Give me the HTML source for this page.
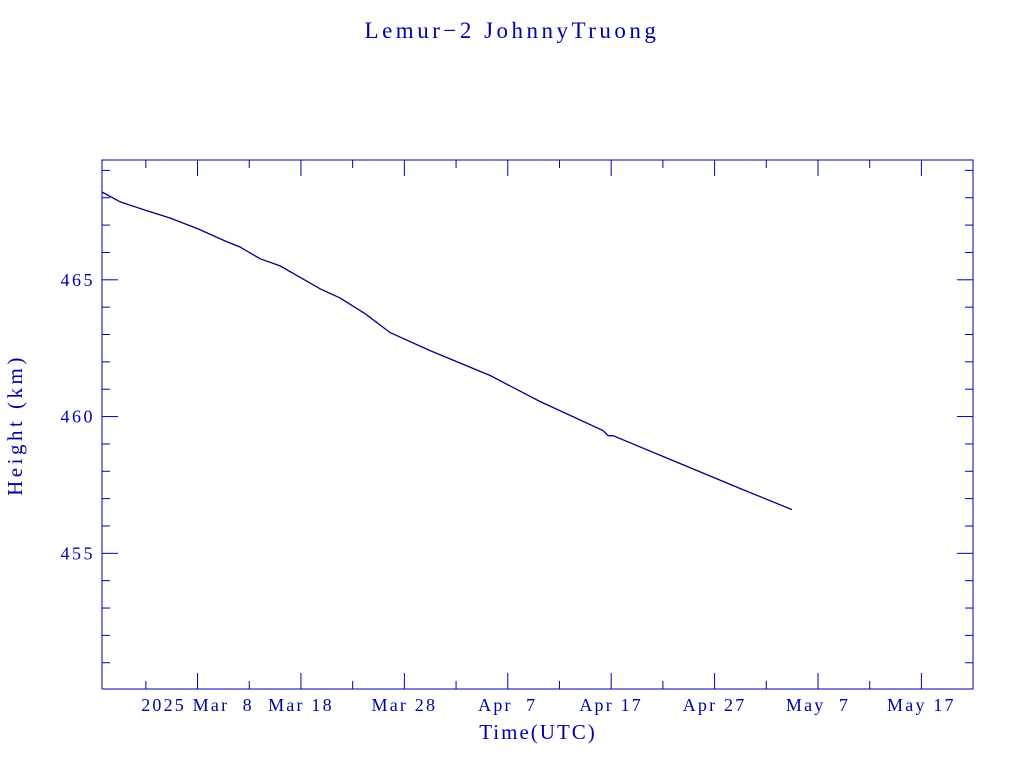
<!DOCTYPE html>
<html><head><meta charset="utf-8"><style>
body{margin:0;background:#fff;width:1024px;height:768px;overflow:hidden}
svg text{font-family:"Liberation Serif","DejaVu Serif",serif;fill:#0000aa}
</style></head><body>
<svg id="chart" width="1024" height="768" xmlns="http://www.w3.org/2000/svg">
<text x="512" y="38" text-anchor="middle" font-size="23" letter-spacing="3.5">Lemur−2 JohnnyTruong</text>
<rect x="102" y="160" width="871" height="529" fill="none" stroke="#0000aa" stroke-width="1"/>
<g id="ticks"></g>
<g id="labels"></g>
<path id="line" fill="none" stroke="#000088" stroke-width="1.3"/>
<text x="538" y="739" text-anchor="middle" font-size="21" letter-spacing="2">Time(UTC)</text>
<text transform="translate(22,425) rotate(-90)" text-anchor="middle" font-size="21" letter-spacing="3.5">Height (km)</text>
</svg>
<script>
// days relative to 2025 Mar 8
const days = [-9.24,-7.5,-5.08,-2.66,0.05,2.66,4.11,6.04,7.98,10.01,11.85,13.78,16.2,18.62,22.49,28.29,33.12,39.21,39.7,40.18,45.99,52.47,57.49];
const heights = [468.21,467.85,467.55,467.26,466.86,466.42,466.20,465.77,465.51,465.07,464.67,464.34,463.76,463.07,462.41,461.50,460.55,459.49,459.30,459.30,458.39,457.37,456.60];
const xTickDays = [0,10,20,30,40,50,60,70];
const xTickLabels = ["2025 Mar  8","Mar 18","Mar 28","Apr  7","Apr 17","Apr 27","May  7","May 17"];
const yTicks = [455,460,465];
const NS="http://www.w3.org/2000/svg";
const X0=102,X1=973,Y0=160,Y1=689;
const dMin=-9.24,dMax=74.99,hMin=450.04,hMax=469.38;
const xs=d=>X0+(d-dMin)/(dMax-dMin)*(X1-X0);
const ys=h=>Y1-(h-hMin)/(hMax-hMin)*(Y1-Y0);
const tg=document.getElementById('ticks'),lg=document.getElementById('labels');
function ln(x1,y1,x2,y2){const l=document.createElementNS(NS,'line');
l.setAttribute('x1',x1);l.setAttribute('y1',y1);l.setAttribute('x2',x2);l.setAttribute('y2',y2);
l.setAttribute('stroke','#0000aa');


tg.appendChild(l);}
for(let d=-5;d<=dMax;d+=5){const x=xs(d);const L=(d%10===0)?16:8;ln(x,Y1,x,Y1-L);ln(x,Y0,x,Y0+L);}
for(let h=451;h<=469;h++){const y=ys(h);const L=(h%5===0)?16:8;ln(X0,y,X0+L,y);ln(X1,y,X1-L,y);}
xTickDays.forEach((d,i)=>{const t=document.createElementNS(NS,'text');
t.setAttribute('x',xs(d));t.setAttribute('y',711);t.setAttribute('text-anchor','middle');t.setAttribute('font-size','18');
t.setAttribute('letter-spacing','2.2');
t.setAttribute('xml:space','preserve');t.style.whiteSpace='pre';


t.textContent=xTickLabels[i];lg.appendChild(t);});
yTicks.forEach(h=>{const t=document.createElementNS(NS,'text');
t.setAttribute('x',95);t.setAttribute('y',ys(h)+6);t.setAttribute('text-anchor','end');t.setAttribute('font-size','18');
t.setAttribute('letter-spacing','2.5');


t.textContent=h;lg.appendChild(t);});
document.getElementById('line').setAttribute('d',days.map((d,i)=>(i?'L':'M')+xs(d).toFixed(1)+' '+ys(heights[i]).toFixed(1)).join(' '));
</script>
</body></html>
